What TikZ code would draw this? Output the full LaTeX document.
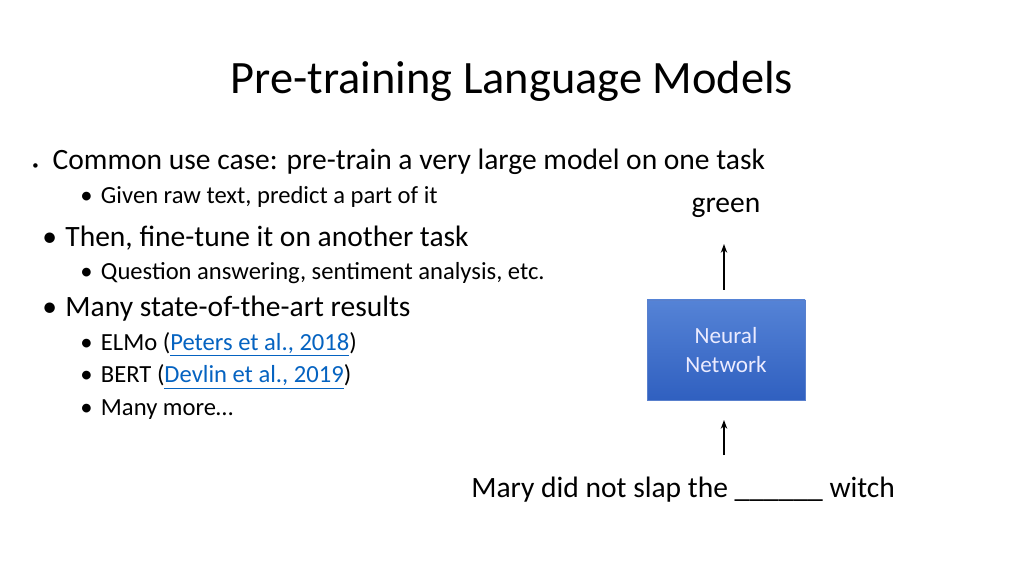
\documentclass[tikz,border=0pt]{standalone}
\usepackage{fontspec}
\setmainfont{Carlito}
\usetikzlibrary{positioning, arrows.meta}
\definecolor{linkblue}{HTML}{0563C1}
\definecolor{nntop}{HTML}{5583D6}
\definecolor{nnbot}{HTML}{3060C0}
\newcommand{\lnk}[1]{\textcolor{linkblue}{\underline{#1}}}

\begin{document}
\begin{tikzpicture}[
		% GLOBAL CFG
		>={Stealth[length=2.2mm,width=1.6mm]},
		% Styles
		title/.style={% The slide title
			font=\fontsize{33}{40}\selectfont,
		},
		itemA/.style={% First level bullet text
			anchor=west,
			inner sep=0pt,
			font=\fontsize{21}{25}\selectfont,
		},
		itemB/.style={% Second level bullet text
			anchor=west,
			inner sep=0pt,
			font=\fontsize{17.5}{21}\selectfont,
		},
		net/.style={% For the network box
			rectangle,
			minimum width=3.95cm,
			minimum height=2.5cm,
			top color=nntop,
			bottom color=nnbot,
			draw=nnbot!80!white,
			text=white!92!blue,
			align=center,
			font=\fontsize{16.5}{20}\selectfont,
		},
		word/.style={% For input and output texts
			font=\fontsize{21}{25}\selectfont,
		},
		]
		\useasboundingbox (0,0) rectangle (25.6,14.4);
		\fill[white] (0,0) rectangle (25.6,14.4);
		
		% Title
		\node [title] (ttl) at (12.8,12.37) {Pre-training Language Models};
		
		% Bullets
		\node [itemA] (b1) at (0.8,10.35) {{\small\textbullet}\hspace{10pt}Common use case: pre-train a very large model on one task};
		\node [itemB] (b1a) at (2.0,9.48) {\textbullet\hspace{6pt}Given raw text, predict a part of it};
		\node [itemA] (b2) at (1.05,8.45) {\textbullet\hspace{6pt}Then, fine-tune it on another task};
		\node [itemB] (b2a) at (2.0,7.57) {\textbullet\hspace{6pt}Question answering, sentiment analysis, etc.};
		\node [itemA] (b3) at (1.05,6.68) {\textbullet\hspace{6pt}Many state-of-the-art results};
		\node [itemB] (b3a) at (2.0,5.8) {\textbullet\hspace{6pt}ELMo (\lnk{Peters et al., 2018})};
		\node [itemB] (b3b) at (2.0,4.98) {\textbullet\hspace{6pt}BERT (\lnk{Devlin et al., 2019})};
		\node [itemB] (b3c) at (2.0,4.15) {\textbullet\hspace{6pt}Many more…};
		
		% Network
		\node [net] (nn) at (18.15,5.65) {Neural\\Network};
		\node [word] (out) at (18.15,9.2) {green};
		\node [word] (in) at (17.08,2.15) {Mary did not slap the \_\_\_\_\_\_ witch};
		
		% Arrows
		\coordinate (inA) at (18.1,3.02);
		\coordinate (inB) at (18.1,3.9);
		\coordinate (outA) at (18.1,7.15);
		\coordinate (outB) at (18.1,8.3);
		\draw [->, thick] (inA) -- (inB);
		\draw [->, thick] (outA) -- (outB);
		
	\end{tikzpicture}
\end{document}
